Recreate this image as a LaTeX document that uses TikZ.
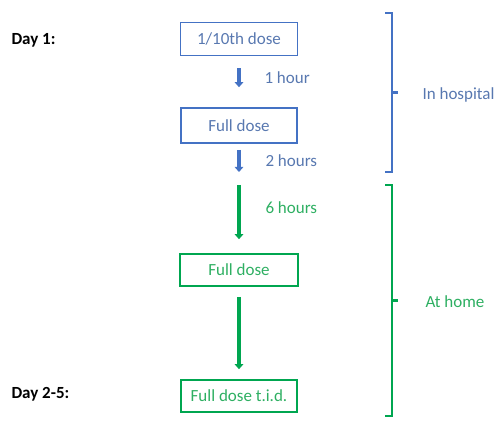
\documentclass[tikz,border=0pt]{standalone}
\usepackage{fontspec}
\setmainfont{Carlito}
\usetikzlibrary{positioning,arrows.meta,calc}
\definecolor{hospline}{HTML}{4472C4}
\definecolor{hosptext}{HTML}{5878B0}
\definecolor{homeline}{HTML}{00A650}
\definecolor{hometext}{HTML}{2EAF62}
\begin{document}
\begin{tikzpicture}[x=1pt,y=1pt,font=\fontsize{17}{20}\selectfont,
    dosebox/.style={draw,line width=1.6pt,minimum height=33pt,inner sep=0pt},
    hospbox/.style={dosebox,hospline,text=hosptext},
    homebox/.style={dosebox,homeline,text=hometext},
    steparrow/.style={line width=4.4pt,-{Triangle[width=8.5pt,length=5pt]}},
    bracket/.style={line width=2.4pt,line cap=butt}]
      \useasboundingbox (0,0) rectangle (499,424);

      % dose boxes
      \node [hospbox,minimum width=117pt] (tenth) at (239,385) {1/10th dose};
      \node [hospbox,minimum width=116pt,minimum height=35pt] (full1) at (239,298.5) {Full dose};
      \node [homebox,minimum width=118pt,minimum height=32pt] (full2) at (239,154) {Full dose};
      \node [homebox,minimum width=116pt,minimum height=32pt] (tid) at (239,28) {Full dose t.i.d.};

      % days
      \node [anchor=west,font=\fontsize{17}{20}\selectfont\bfseries] (day1) at (8,384) {Day 1:};
      \node [anchor=west,font=\fontsize{17}{20}\selectfont\bfseries] (day2) at (8,30) {Day 2-5:};

      % waiting times
      \coordinate (gapb) at (239,252);
      \coordinate (gapg) at (239,239);
      \draw [steparrow,hospline] ([yshift=-12pt]tenth.south) -- ([yshift=20pt]full1.north);
      \draw [steparrow,hospline] ([yshift=-6pt]full1.south) -- (gapb);
      \draw [steparrow,homeline] (gapg) -- ([yshift=14pt]full2.north);
      \draw [steparrow,homeline] ([yshift=-10pt]full2.south) -- ([yshift=10pt]tid.north);
      \node [anchor=west,text=hosptext] (h1) at (261,346) {1 hour};
      \node [anchor=west,text=hosptext] (h2) at (262,263) {2 hours};
      \node [anchor=west,text=hometext] (h6) at (262,216) {6 hours};

      % places
      \coordinate (hosptop) at (392,411);
      \coordinate (hospbot) at (392,252);
      \draw [bracket,hospline] ([xshift=-7pt]hosptop) -- (hosptop) -- (hospbot) -- ([xshift=-7pt]hospbot);
      \draw [bracket,hospline] ($(hosptop)!.5!(hospbot)$) -- ++(6,0) coordinate (hospmid);
      \node [anchor=west,text=hosptext] (inhosp) at (419,329) {In hospital};

      \coordinate (hometop) at (392,239);
      \coordinate (homebot) at (392,8);
      \draw [bracket,homeline] ([xshift=-7pt]hometop) -- (hometop) -- (homebot) -- ([xshift=-7pt]homebot);
      \draw [bracket,homeline] ($(hometop)!.5!(homebot)$) -- ++(6,0) coordinate (homemid);
      \node [anchor=west,text=hometext] (athome) at (422,122) {At home};

    \end{tikzpicture}
\end{document}
